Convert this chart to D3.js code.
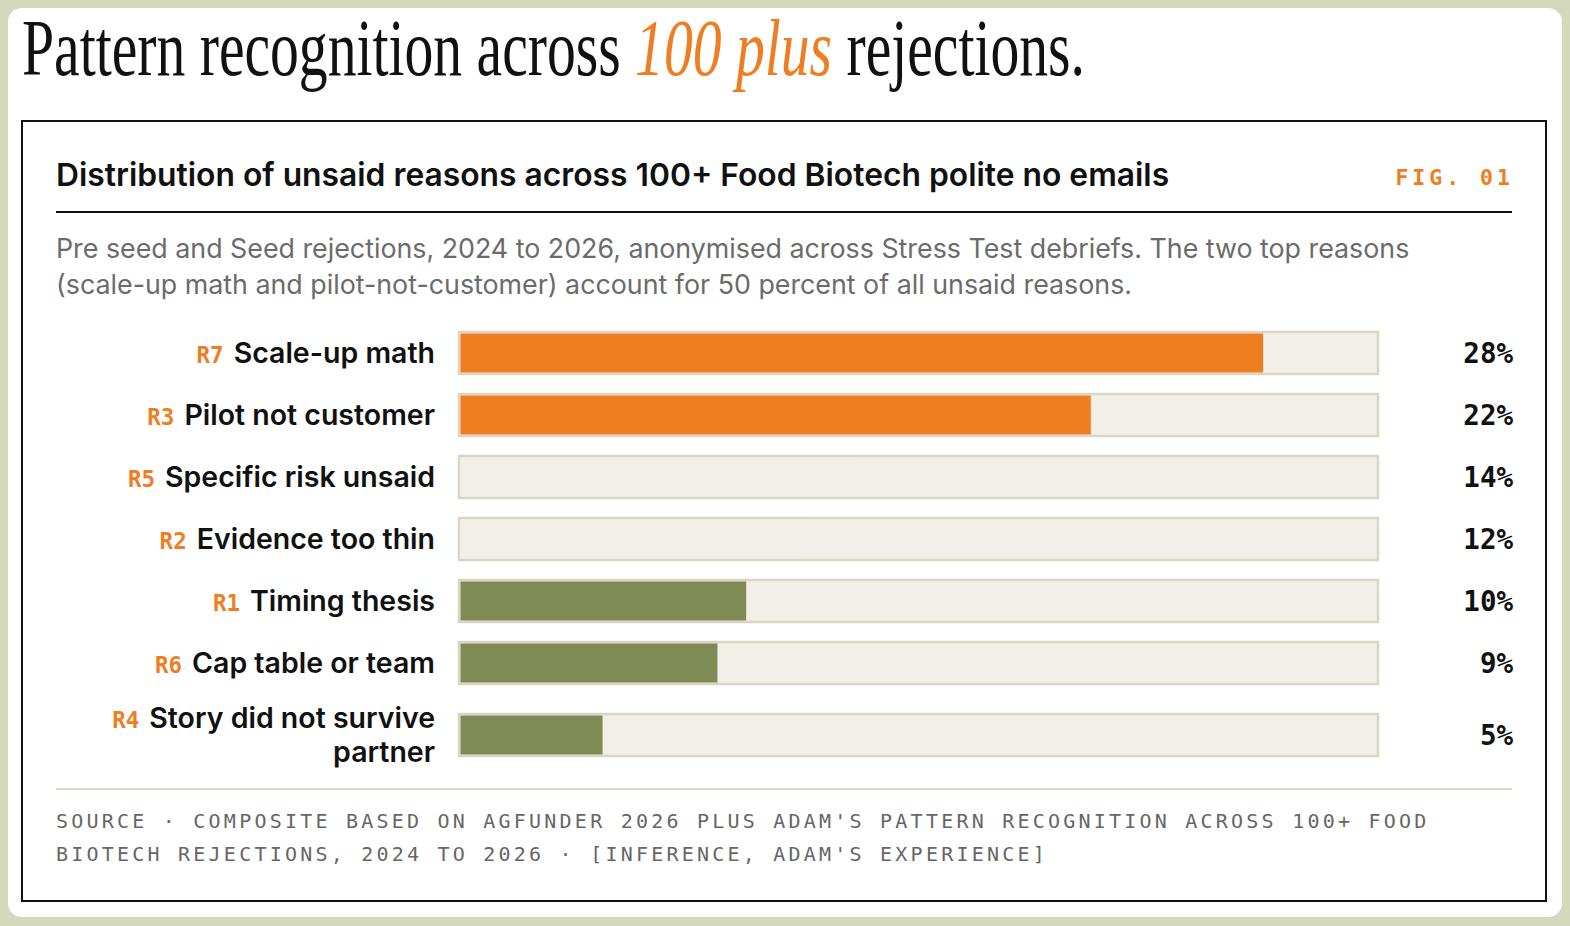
<!DOCTYPE html>
<html>
<head>
<meta charset="utf-8">
<script src="https://cdn.jsdelivr.net/npm/d3@7"></script>
<style>
  html, body { margin: 0; padding: 0; background: #d4d9bd; }
  svg { display: block; }
</style>
</head>
<body>
<div id="chart"></div>
<script>
// data
const codes = ["R7", "R3", "R5", "R2", "R1", "R6", "R4"]
const reasons = ["Scale-up math", "Pilot not customer", "Specific risk unsaid", "Evidence too thin",
  "Timing thesis", "Cap table or team", "Story did not survive partner"]
const shares = [28, 22, 14, 12, 10, 9, 5]
const tiers = ["top", "top", "mid", "mid", "low", "low", "low"]
const xMax = 32

const headline = ["Pattern recognition across ", "100 plus", " rejections."]
const chartTitle = "Distribution of unsaid reasons across 100+ Food Biotech polite no emails"
const figLabel = "FIG. 01"
const subtitleLines = [
  "Pre seed and Seed rejections, 2024 to 2026, anonymised across Stress Test debriefs. The two top reasons",
  "(scale-up math and pilot-not-customer) account for 50 percent of all unsaid reasons."
]
const sourceLines = [
  "SOURCE · COMPOSITE BASED ON AGFUNDER 2026 PLUS ADAM'S PATTERN RECOGNITION ACROSS 100+ FOOD",
  "BIOTECH REJECTIONS, 2024 TO 2026 · [INFERENCE, ADAM'S EXPERIENCE]"
]

const W = 1570, H = 926
const orange = "#ef7d22", olive = "#7f8a55", track = "#f2efe8", trackLine = "#d9d6c6"
const tierColor = { top: orange, mid: track, low: olive }
const sans = "Inter, 'Noto Sans', sans-serif"
const mono = "'DejaVu Sans Mono', 'Liberation Mono', monospace"

const svg = d3.select("#chart").append("svg")
  .attr("width", W)
  .attr("height", H)

// outer frame + card
svg.append("rect").attr("x", 8).attr("y", 8).attr("width", W - 16).attr("height", H - 17)
  .attr("rx", 14).attr("fill", "#fff")
svg.append("rect").attr("x", 22).attr("y", 121).attr("width", 1524).attr("height", 780)
  .attr("fill", "#fff").attr("stroke", "#111").attr("stroke-width", 2)

// headline: a condensed serif, squeezed horizontally to the reference width
const headG = svg.append("g")
const head = headG.append("text")
  .attr("x", 0).attr("y", 0)
  .style("font-family", "'Liberation Serif', 'DejaVu Serif', serif")
  .style("font-size", "80px")
  .style("fill", "#111")
head.selectAll("tspan").data(headline).enter().append("tspan")
  .style("font-style", (d, i) => i == 1 ? "italic" : null)
  .style("fill", (d, i) => i == 1 ? orange : null)
  .text(d => d)
const headScale = 1063 / head.node().getComputedTextLength()
headG.attr("transform", "translate(22,75) scale(" + headScale + ",1)")

// card header
svg.append("text").attr("x", 56).attr("y", 186)
  .style("font-family", sans).style("font-weight", 600).style("font-size", "31.8px").style("fill", "#111")
  .text(chartTitle)
svg.append("text").attr("x", 1514).attr("y", 185).attr("text-anchor", "end")
  .style("font-family", mono).style("font-weight", "bold").style("font-size", "21.5px")
  .style("letter-spacing", "4px").style("fill", orange)
  .text(figLabel)
svg.append("line").attr("x1", 56).attr("x2", 1512).attr("y1", 212).attr("y2", 212)
  .attr("stroke", "#111").attr("stroke-width", 2)

svg.append("g").selectAll("text").data(subtitleLines).enter().append("text")
  .attr("x", 56).attr("y", (d, i) => 258 + i * 36)
  .style("font-family", sans).style("font-size", "26.8px").style("fill", "#6b6b6b")
  .text(d => d)

// bars
const x = d3.scaleLinear().domain([0, xMax]).range([459, 1378])
const labelRight = 435, labelWidth = 380, barH = 42
const rows = codes.map((c, i) => ({ code: c, reason: reasons[i], share: shares[i], tier: tiers[i] }))

// split labels into lines that fit the label column
const probe = svg.append("text").style("font-family", sans).style("font-weight", 600).style("font-size", "28.5px")
rows.forEach(r => {
  const words = r.reason.split(" ")
  const lines = [[]]
  words.forEach(w => {
    const cur = lines[lines.length - 1]
    const prefix = lines.length == 1 ? r.code + " " : ""
    probe.text(prefix + cur.concat(w).join(" "))
    if (cur.length && probe.node().getComputedTextLength() > labelWidth) lines.push([w])
    else cur.push(w)
  })
  r.lines = lines.map(l => l.join(" "))
})
probe.remove()

let rowTop = 322
rows.forEach(r => {
  const h = 62 + (r.lines.length - 1) * 20
  r.cy = rowTop + h / 2
  rowTop += h
})

const row = svg.append("g").selectAll("g").data(rows).enter().append("g")

row.append("rect")
  .attr("x", x(0)).attr("y", d => d.cy - barH / 2)
  .attr("width", x(xMax) - x(0)).attr("height", barH)
  .attr("fill", track).attr("stroke", trackLine).attr("stroke-width", 2.5)
row.append("rect")
  .attr("x", x(0) + 1.5).attr("y", d => d.cy - barH / 2 + 1.5)
  .attr("width", d => x(d.share) - x(0) - 1.5).attr("height", barH - 3)
  .attr("fill", d => tierColor[d.tier])

const label = row.append("text")
  .attr("text-anchor", "end")
  .style("font-family", sans).style("font-weight", 600).style("font-size", "28.5px").style("fill", "#111")
label.each(function (d) {
  const t = d3.select(this)
  const y0 = d.cy + 10 - (d.lines.length - 1) * 17
  d.lines.forEach((line, i) => {
    if (i == 0) {
      t.append("tspan").attr("x", labelRight).attr("y", y0)
        .style("font-family", mono).style("font-size", "22.5px").style("fill", orange)
        .text(d.code)
      t.append("tspan").attr("dx", 10).text(line)
    } else {
      t.append("tspan").attr("x", labelRight).attr("y", y0 + i * 34).text(line)
    }
  })
})

row.append("text")
  .attr("x", 1513).attr("y", d => d.cy + 10).attr("text-anchor", "end")
  .style("font-family", mono).style("font-weight", "bold").style("font-size", "27.5px").style("fill", "#111")
  .text(d => d.share + "%")

// footer
svg.append("line").attr("x1", 56).attr("x2", 1512).attr("y1", 789).attr("y2", 789)
  .attr("stroke", trackLine).attr("stroke-width", 2)
svg.append("g").selectAll("text").data(sourceLines).enter().append("text")
  .attr("x", 56).attr("y", (d, i) => 828 + i * 33)
  .style("font-family", mono).style("font-size", "20px").style("letter-spacing", "3.22px").style("fill", "#666")
  .text(d => d)
</script>
</body>
</html>
